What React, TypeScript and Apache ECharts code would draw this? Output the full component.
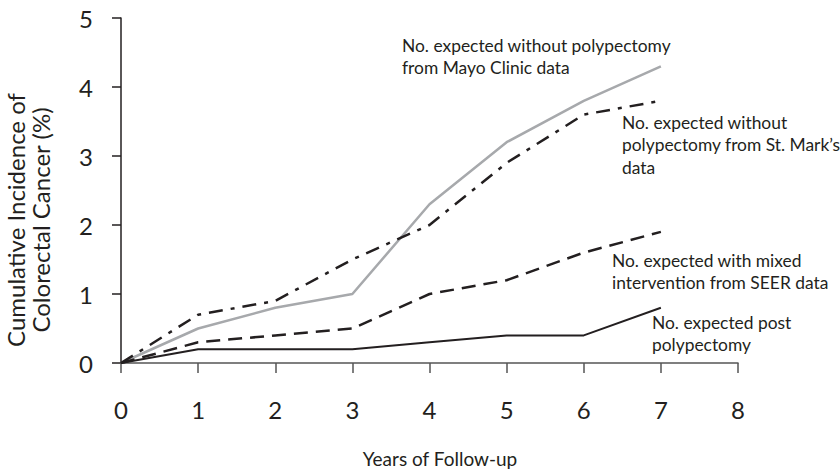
import React, { useEffect, useRef } from "react";
import * as echarts from "echarts";

const years = [0, 1, 2, 3, 4, 5, 6, 7];
const mayo = [0, 0.5, 0.8, 1.0, 2.3, 3.2, 3.8, 4.3];
const stMarks = [0, 0.7, 0.9, 1.5, 2.0, 2.9, 3.6, 3.8];
const seer = [0, 0.3, 0.4, 0.5, 1.0, 1.2, 1.6, 1.9];
const postPoly = [0, 0.2, 0.2, 0.2, 0.3, 0.4, 0.4, 0.8];

const xTitle = "Years of Follow-up";
const yTitle = ["Cumulative Incidence of", "Colorectal Cancer (%)"];
const labelMayo = ["No. expected without polypectomy", "from Mayo Clinic data"];
const labelStMarks = ["No. expected without", "polypectomy from St. Mark\u2019s", "data"];
const labelSeer = ["No. expected with mixed", "intervention from SEER data"];
const labelPost = ["No. expected post", "polypectomy"];

const FONT = "Lato";

function pairs(vals: number[]) {
  return years.map((y, i) => [y, vals[i]]);
}

export default function App() {
  const ref = useRef<HTMLDivElement>(null);
  useEffect(() => {
    if (!ref.current) return;
    const chart = echarts.init(ref.current, undefined, { renderer: "svg" });
    const annText = (lines: string[], x: number, y: number) => ({
      type: "text",
      left: x,
      top: y,
      style: {
        text: lines.join("\n"),
        font: `17.4px ${FONT}`,
        fill: "#231f20",
        lineHeight: 22.5,
      },
    });
    chart.setOption({
      animation: false,
      backgroundColor: "#ffffff",
      grid: { left: 121, right: 102, top: 18, bottom: 109, containLabel: false },
      xAxis: {
        type: "value",
        min: 0,
        max: 8,
        interval: 1,
        axisLine: { lineStyle: { color: "#555", width: 1.5 } },
        axisTick: { show: true, length: 10, lineStyle: { color: "#555", width: 1.5 } },
        axisLabel: { fontFamily: FONT, fontSize: 24, color: "#231f20", margin: 34 },
        splitLine: { show: false },
      },
      yAxis: {
        type: "value",
        min: 0,
        max: 5,
        interval: 1,
        axisLine: { show: true, lineStyle: { color: "#231f20", width: 1.5 } },
        axisTick: { show: true, length: 9, lineStyle: { color: "#231f20", width: 1.5 } },
        axisLabel: { fontFamily: FONT, fontSize: 24, color: "#231f20", margin: 28 },
        splitLine: { show: false },
      },
      series: [
        {
          type: "line",
          data: pairs(mayo),
          symbol: "none",
          lineStyle: { color: "#a7a9ac", width: 2.5, type: "solid" },
        },
        {
          type: "line",
          data: pairs(stMarks),
          symbol: "none",
          lineStyle: { color: "#231f20", width: 2.5, type: [14, 8, 4, 8] },
        },
        {
          type: "line",
          data: pairs(seer),
          symbol: "none",
          lineStyle: { color: "#231f20", width: 2.5, type: [14, 8] },
        },
        {
          type: "line",
          data: pairs(postPoly),
          symbol: "none",
          lineStyle: { color: "#231f20", width: 2 },
        },
      ],
      graphic: [
        annText(labelMayo, 402, 34),
        annText(labelStMarks, 622, 111),
        annText(labelSeer, 612, 249),
        annText(labelPost, 652, 311),
        {
          type: "text",
          x: 440,
          y: 458,
          style: {
            text: xTitle,
            font: `19px ${FONT}`,
            fill: "#231f20",
            align: "center",
            verticalAlign: "middle",
          },
        },
        {
          type: "text",
          x: 28,
          y: 220,
          rotation: Math.PI / 2,
          style: {
            text: yTitle.join("\n"),
            font: `24px ${FONT}`,
            fill: "#231f20",
            lineHeight: 25,
            align: "center",
            verticalAlign: "middle",
          },
        },
      ],
    });
    return () => chart.dispose();
  }, []);
  return (
    <div
      ref={ref}
      style={{ position: "fixed", left: 0, top: 0, width: 840, height: 472 }}
    />
  );
}
